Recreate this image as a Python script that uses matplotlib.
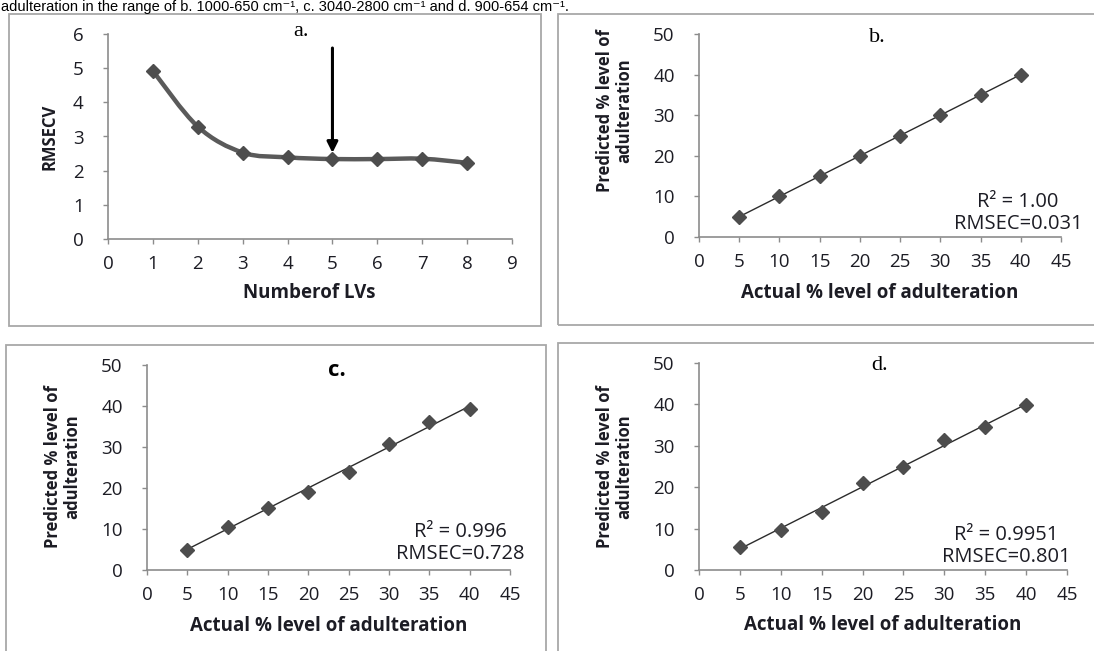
import numpy as np
import matplotlib
matplotlib.use('Agg')
import matplotlib.pyplot as plt
from matplotlib.path import Path
from matplotlib.patches import PathPatch, Rectangle

W, H = 1094, 651

# panel a: RMSECV against number of latent variables
lvs = [1, 2, 3, 4, 5, 6, 7, 8]
rmsecv = [4.92, 3.29, 2.53, 2.39, 2.34, 2.34, 2.35, 2.23]
best_lv = 5
arrow_from, arrow_to = 5.59, 2.52

# panels b, c, d: actual vs predicted adulteration (%)
actual = [5, 10, 15, 20, 25, 30, 35, 40]
pred_b = [5, 10, 15, 20, 25, 30, 35, 40]
pred_c = [5.0, 10.6, 15.2, 19.1, 24.0, 30.8, 36.2, 39.2]
pred_d = [5.7, 9.6, 14.1, 21.0, 24.8, 31.3, 34.4, 39.8]

stats_b = "R\u00b2 = 1.00\nRMSEC=0.031"
stats_c = "R\u00b2 = 0.996\nRMSEC=0.728"
stats_d = "R\u00b2 = 0.9951\nRMSEC=0.801"

xlab = "Actual % level of adulteration"
ylab = "Predicted % level of\nadulteration"

SANS = ['Open Sans', 'DejaVu Sans']
SERIF = ['Liberation Serif', 'DejaVu Serif']
plt.rcParams['font.family'] = SANS

MK = '#4d4d4d'
SP = '#8c8c8c'
TXT = '#1c1c24'


def fx(px):
    return px / W


def fy(py):
    return 1 - py / H


def make_axes(x0, x1, ytop, ybot):
    ax = fig.add_axes([fx(x0), fy(ybot), (x1 - x0) / W, (ybot - ytop) / H])
    ax.patch.set_alpha(0)
    for s in ['top', 'right']:
        ax.spines[s].set_visible(False)
    for s in ['left', 'bottom']:
        ax.spines[s].set_color(SP)
        ax.spines[s].set_linewidth(1.2)
    ax.tick_params(direction='out', length=3.5, width=1, color=SP,
                   labelsize=13.5, labelcolor=TXT)
    ax.tick_params(axis='x', pad=8)
    ax.tick_params(axis='y', pad=14)
    return ax


def frame(x0, y0, x1, y1):
    fig.patches.append(Rectangle((fx(x0), fy(y1)), (x1 - x0) / W, (y1 - y0) / H,
                                 transform=fig.transFigure, fill=False,
                                 edgecolor='#a8a8a8', linewidth=1.3))


def smooth_path(x, y, t=1 / 6):
    # excel-like smoothed line as cubic bezier through the points
    x = np.asarray(x, float)
    y = np.asarray(y, float)
    n = len(x)
    verts = [(x[0], y[0])]
    codes = [Path.MOVETO]
    for i in range(n - 1):
        p0 = np.array([x[max(i - 1, 0)], y[max(i - 1, 0)]])
        p1 = np.array([x[i], y[i]])
        p2 = np.array([x[i + 1], y[i + 1]])
        p3 = np.array([x[min(i + 2, n - 1)], y[min(i + 2, n - 1)]])
        c1 = p1 + (p2 - p0) * t
        c2 = p2 - (p3 - p1) * t
        verts += [tuple(c1), tuple(c2), tuple(p2)]
        codes += [Path.CURVE4] * 3
    return Path(verts, codes)


fig = plt.figure(figsize=(W / 100, H / 100), dpi=100)
fig.patch.set_facecolor('white')

fig.text(fx(1), fy(11), "adulteration in the range of b. 1000-650 cm\u207b\u00b9, "
         "c. 3040-2800 cm\u207b\u00b9 and d. 900-654 cm\u207b\u00b9.",
         family=['Liberation Sans', 'DejaVu Sans'], fontsize=10.5,
         va='baseline', ha='left', color='black')

frame(9, 14, 541, 326)
frame(558, 14, 1100, 325)
frame(6, 345, 546, 660)
frame(558, 343, 1100, 660)

# ---- a
ax = make_axes(108, 512, 34, 239)
ax.set_xlim(0, 9)
ax.set_ylim(0, 6)
ax.set_xticks(range(0, 10))
ax.set_yticks(range(0, 7))
ax.add_patch(PathPatch(smooth_path(lvs, rmsecv), facecolor='none',
                       edgecolor='#5a5a5a', linewidth=3.2, capstyle='round'))
ax.plot(lvs, rmsecv, linestyle='none', marker='D', ms=7.5, color=MK)
ax.annotate('', xy=(best_lv, arrow_to), xytext=(best_lv, arrow_from),
            arrowprops=dict(arrowstyle='-|>', color='black', lw=2.2,
                            mutation_scale=16, shrinkA=0, shrinkB=0))
fig.text(fx(301), fy(31), "a.", family=SERIF, fontsize=16, ha='center', va='center')
fig.text(fx(309), fy(293), "Numberof LVs", fontsize=13.5, fontweight='bold',
         ha='center', va='center', color=TXT)
fig.text(fx(50), fy(137), "RMSECV", fontsize=12, fontweight='bold', rotation=90,
         ha='center', va='center', color=TXT)


def scatter_panel(ax, pred, stats, title, tfam, tweight, tpos, spos, xlpos, ylpos):
    ax.set_xlim(0, 45)
    ax.set_ylim(0, 50)
    ax.set_xticks(range(0, 50, 5))
    ax.set_yticks(range(0, 60, 10))
    k, b = np.polyfit(actual, pred, 1)
    xs = np.array([actual[0], actual[-1]])
    ax.plot(xs, k * xs + b, color='#2b2b2b', lw=1.0)
    ax.plot(actual, pred, linestyle='none', marker='D', ms=7.5, color=MK)
    fig.text(fx(tpos[0]), fy(tpos[1]), title, family=tfam, fontweight=tweight,
             fontsize=16, ha='center', va='center')
    fig.text(fx(spos[0]), fy(spos[1]), stats, fontsize=14.5, ha='center', va='center',
             multialignment='center', linespacing=1.1, color=TXT)
    fig.text(fx(xlpos[0]), fy(xlpos[1]), xlab, fontsize=13.5, fontweight='bold',
             ha='center', va='center', color=TXT)
    fig.text(fx(ylpos[0]), fy(ylpos[1]), ylab, fontsize=12, fontweight='bold',
             rotation=90, ha='center', va='center', multialignment='center',
             linespacing=1.1, color=TXT)


ax = make_axes(699, 1061, 34, 237)
scatter_panel(ax, pred_b, stats_b, "b.", SERIF, 'normal', (877, 37), (1018, 213),
              (880, 293), (615, 111))

ax = make_axes(147, 510, 365, 570)
scatter_panel(ax, pred_c, stats_c, "c.", SANS, 'bold', (337, 370), (460, 543),
              (329, 626), (63, 467))

ax = make_axes(699, 1067, 362.7, 570.3)
scatter_panel(ax, pred_d, stats_d, "d.", SERIF, 'normal', (880, 365), (1006, 546),
              (883, 625), (615, 467))

fig.savefig('out.png', dpi=100, facecolor='white')
